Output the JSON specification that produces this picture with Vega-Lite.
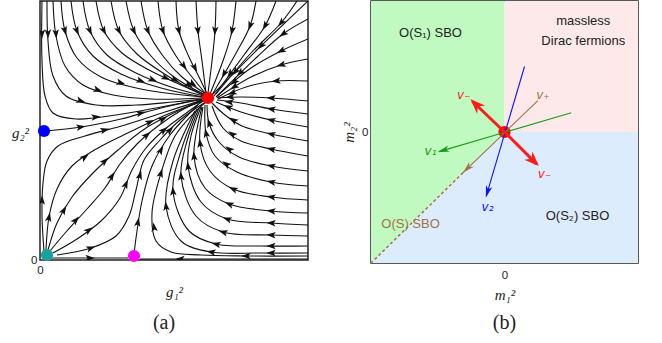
{
"$schema": "https://vega.github.io/schema/vega-lite/v6.json",
"padding": {"left": 10, "top": 0, "right": 0, "bottom": 0},
"background": "white",
"bounds": "flush",
"spacing": 63,
"config": {
 "view": {"stroke": "#222", "strokeWidth": 1.5},
 "axis": {"grid": false, "domain": false, "ticks": false, "labelFont": "Liberation Sans", "labelFontSize": 11.5, "labelColor": "#222", "labelFlush": false, "labelExpr": "'0'", "titleColor": "#222", "titleFont": "Liberation Serif", "titleFontStyle": "italic", "titleFontWeight": "normal", "titleFontSize": 15}
},
"datasets": {
 "streams": [
  {"id":"L1","g1":2,"g2":259},{"id":"L1","g1":2,"g2":199},{"id":"L1","g1":5,"g2":164},{"id":"L1","g1":13,"g2":147},{"id":"L1","g1":36,"g2":141},{"id":"L1","g1":76,"g2":145},{"id":"L1","g1":121,"g2":153},{"id":"L1","g1":163,"g2":161},
  {"id":"L2","g1":7,"g2":259},{"id":"L2","g1":8,"g2":219},{"id":"L2","g1":13,"g2":184},{"id":"L2","g1":26,"g2":164},{"id":"L2","g1":56,"g2":155},{"id":"L2","g1":96,"g2":155},{"id":"L2","g1":133,"g2":158},{"id":"L2","g1":164,"g2":161},
  {"id":"L3","g1":13,"g2":259},{"id":"L3","g1":16,"g2":224},{"id":"L3","g1":25,"g2":194},{"id":"L3","g1":43,"g2":175},{"id":"L3","g1":73,"g2":165},{"id":"L3","g1":111,"g2":161},{"id":"L3","g1":164,"g2":162},
  {"id":"L4","g1":21,"g2":259},{"id":"L4","g1":25,"g2":229},{"id":"L4","g1":37,"g2":202},{"id":"L4","g1":61,"g2":183},{"id":"L4","g1":101,"g2":171},{"id":"L4","g1":163,"g2":163},
  {"id":"L5","g1":31,"g2":259},{"id":"L5","g1":37,"g2":229},{"id":"L5","g1":53,"g2":204},{"id":"L5","g1":81,"g2":186},{"id":"L5","g1":121,"g2":172},{"id":"L5","g1":163,"g2":163},
  {"id":"L6","g1":43,"g2":259},{"id":"L6","g1":50,"g2":229},{"id":"L6","g1":67,"g2":205},{"id":"L6","g1":96,"g2":187},{"id":"L6","g1":131,"g2":173},{"id":"L6","g1":164,"g2":164},
  {"id":"L7","g1":56,"g2":259},{"id":"L7","g1":64,"g2":229},{"id":"L7","g1":82,"g2":207},{"id":"L7","g1":111,"g2":189},{"id":"L7","g1":141,"g2":175},{"id":"L7","g1":165,"g2":164},
  {"id":"L8","g1":71,"g2":259},{"id":"L8","g1":79,"g2":229},{"id":"L8","g1":97,"g2":206},{"id":"L8","g1":123,"g2":187},{"id":"L8","g1":147,"g2":173},{"id":"L8","g1":166,"g2":165},
  {"id":"L9","g1":86,"g2":259},{"id":"L9","g1":94,"g2":229},{"id":"L9","g1":111,"g2":204},{"id":"L9","g1":134,"g2":183},{"id":"L9","g1":165,"g2":165},
  {"id":"L10","g1":101,"g2":259},{"id":"L10","g1":108,"g2":229},{"id":"L10","g1":123,"g2":204},{"id":"L10","g1":142,"g2":183},{"id":"L10","g1":166,"g2":166},
  {"id":"L11","g1":118,"g2":259},{"id":"L11","g1":123,"g2":229},{"id":"L11","g1":136,"g2":204},{"id":"L11","g1":152,"g2":183},{"id":"L11","g1":166,"g2":166},
  {"id":"L12","g1":136,"g2":259},{"id":"L12","g1":139,"g2":229},{"id":"L12","g1":149,"g2":203},{"id":"L12","g1":160,"g2":181},{"id":"L12","g1":167,"g2":166},
  {"id":"L13","g1":156,"g2":259},{"id":"L13","g1":158,"g2":229},{"id":"L13","g1":162,"g2":199},{"id":"L13","g1":166,"g2":167},
  {"id":"L14","g1":176,"g2":259},{"id":"L14","g1":175,"g2":229},{"id":"L14","g1":172,"g2":199},{"id":"L14","g1":168,"g2":167},
  {"id":"L15","g1":196,"g2":259},{"id":"L15","g1":192,"g2":229},{"id":"L15","g1":184,"g2":202},{"id":"L15","g1":170,"g2":166},
  {"id":"L16","g1":216,"g2":259},{"id":"L16","g1":210,"g2":234},{"id":"L16","g1":195,"g2":205},{"id":"L16","g1":172,"g2":165},
  {"id":"L17","g1":236,"g2":259},{"id":"L17","g1":225,"g2":234},{"id":"L17","g1":204,"g2":205},{"id":"L17","g1":174,"g2":164},
  {"id":"L18","g1":257,"g2":259},{"id":"L18","g1":241,"g2":237},{"id":"L18","g1":211,"g2":207},{"id":"L18","g1":176,"g2":166},
  {"id":"L19","g1":268,"g2":259},{"id":"L19","g1":221,"g2":214},{"id":"L19","g1":171,"g2":164},
  {"id":"L20","g1":268,"g2":241},{"id":"L20","g1":243,"g2":226},{"id":"L20","g1":217,"g2":203},{"id":"L20","g1":177,"g2":164},
  {"id":"L21","g1":268,"g2":221},{"id":"L21","g1":241,"g2":209},{"id":"L21","g1":211,"g2":192},{"id":"L21","g1":176,"g2":163},
  {"id":"L22","g1":268,"g2":201},{"id":"L22","g1":241,"g2":195},{"id":"L22","g1":211,"g2":183},{"id":"L22","g1":177,"g2":162},
  {"id":"L23","g1":268,"g2":179},{"id":"L23","g1":236,"g2":179},{"id":"L23","g1":206,"g2":173},{"id":"L23","g1":178,"g2":161},
  {"id":"L24","g1":268,"g2":159},{"id":"L24","g1":231,"g2":162},{"id":"L24","g1":201,"g2":163},{"id":"L24","g1":178,"g2":162},
  {"id":"L25","g1":268,"g2":146},{"id":"L25","g1":231,"g2":151},{"id":"L25","g1":201,"g2":157},{"id":"L25","g1":177,"g2":160},
  {"id":"L26","g1":268,"g2":133},{"id":"L26","g1":231,"g2":140},{"id":"L26","g1":201,"g2":148},{"id":"L26","g1":176,"g2":158},
  {"id":"L27","g1":268,"g2":119},{"id":"L27","g1":231,"g2":126},{"id":"L27","g1":202,"g2":134},{"id":"L27","g1":185,"g2":145},{"id":"L27","g1":172,"g2":157},
  {"id":"L28","g1":268,"g2":104},{"id":"L28","g1":231,"g2":111},{"id":"L28","g1":201,"g2":119},{"id":"L28","g1":183,"g2":132},{"id":"L28","g1":172,"g2":154},
  {"id":"L29","g1":268,"g2":89},{"id":"L29","g1":231,"g2":94},{"id":"L29","g1":199,"g2":103},{"id":"L29","g1":179,"g2":118},{"id":"L29","g1":169,"g2":137},{"id":"L29","g1":167,"g2":155},
  {"id":"L30","g1":268,"g2":74},{"id":"L30","g1":231,"g2":78},{"id":"L30","g1":197,"g2":88},{"id":"L30","g1":175,"g2":104},{"id":"L30","g1":166,"g2":127},{"id":"L30","g1":165,"g2":155},
  {"id":"L31","g1":268,"g2":60},{"id":"L31","g1":231,"g2":63},{"id":"L31","g1":193,"g2":71},{"id":"L31","g1":170,"g2":89},{"id":"L31","g1":160,"g2":117},{"id":"L31","g1":163,"g2":153},
  {"id":"L32","g1":268,"g2":47},{"id":"L32","g1":231,"g2":49},{"id":"L32","g1":189,"g2":56},{"id":"L32","g1":165,"g2":72},{"id":"L32","g1":154,"g2":104},{"id":"L32","g1":162,"g2":153},
  {"id":"L33","g1":268,"g2":35},{"id":"L33","g1":231,"g2":37},{"id":"L33","g1":187,"g2":41},{"id":"L33","g1":161,"g2":58},{"id":"L33","g1":148,"g2":94},{"id":"L33","g1":151,"g2":124},{"id":"L33","g1":161,"g2":153},
  {"id":"L34","g1":268,"g2":24},{"id":"L34","g1":231,"g2":25},{"id":"L34","g1":183,"g2":28},{"id":"L34","g1":156,"g2":44},{"id":"L34","g1":141,"g2":84},{"id":"L34","g1":147,"g2":119},{"id":"L34","g1":159,"g2":152},
  {"id":"L35","g1":268,"g2":14},{"id":"L35","g1":221,"g2":14},{"id":"L35","g1":176,"g2":16},{"id":"L35","g1":149,"g2":29},{"id":"L35","g1":133,"g2":69},{"id":"L35","g1":141,"g2":109},{"id":"L35","g1":157,"g2":151},
  {"id":"L36","g1":268,"g2":7},{"id":"L36","g1":221,"g2":7},{"id":"L36","g1":171,"g2":8},{"id":"L36","g1":141,"g2":19},{"id":"L36","g1":126,"g2":54},{"id":"L36","g1":133,"g2":99},{"id":"L36","g1":155,"g2":149},
  {"id":"L37","g1":268,"g2":4},{"id":"L37","g1":206,"g2":4},{"id":"L37","g1":161,"g2":5},{"id":"L37","g1":131,"g2":8},{"id":"L37","g1":116,"g2":19},{"id":"L37","g1":112,"g2":47},{"id":"L37","g1":121,"g2":87},{"id":"L37","g1":135,"g2":124},{"id":"L37","g1":155,"g2":148},{"id":"L37","g1":166,"g2":158},
  {"id":"M1","g1":94,"g2":6},{"id":"M1","g1":97,"g2":29},{"id":"M1","g1":102,"g2":59},{"id":"M1","g1":112,"g2":94},{"id":"M1","g1":130,"g2":125},{"id":"M1","g1":158,"g2":155},
  {"id":"BL","g1":5,"g2":129},{"id":"BL","g1":41,"g2":133},{"id":"BL","g1":81,"g2":141},{"id":"BL","g1":121,"g2":152},{"id":"BL","g1":163,"g2":161},
  {"id":"C1","g1":4,"g2":9},{"id":"C1","g1":2,"g2":44},{"id":"C1","g1":3,"g2":77},{"id":"C1","g1":7,"g2":99},{"id":"C1","g1":18,"g2":114},{"id":"C1","g1":45,"g2":124},{"id":"C1","g1":85,"g2":135},{"id":"C1","g1":125,"g2":148},{"id":"C1","g1":163,"g2":160},
  {"id":"C2","g1":6,"g2":10},{"id":"C2","g1":9,"g2":43},{"id":"C2","g1":17,"g2":71},{"id":"C2","g1":32,"g2":94},{"id":"C2","g1":58,"g2":112},{"id":"C2","g1":92,"g2":129},{"id":"C2","g1":128,"g2":146},{"id":"C2","g1":164,"g2":159},
  {"id":"C3","g1":8,"g2":10},{"id":"C3","g1":17,"g2":37},{"id":"C3","g1":32,"g2":63},{"id":"C3","g1":53,"g2":87},{"id":"C3","g1":78,"g2":110},{"id":"C3","g1":106,"g2":132},{"id":"C3","g1":140,"g2":150},{"id":"C3","g1":163,"g2":161},
  {"id":"C4","g1":10,"g2":9},{"id":"C4","g1":26,"g2":28},{"id":"C4","g1":47,"g2":51},{"id":"C4","g1":65,"g2":72},{"id":"C4","g1":80,"g2":96},{"id":"C4","g1":97,"g2":116},{"id":"C4","g1":118,"g2":134},{"id":"C4","g1":142,"g2":150},{"id":"C4","g1":163,"g2":160},
  {"id":"C5","g1":13,"g2":7},{"id":"C5","g1":37,"g2":21},{"id":"C5","g1":61,"g2":39},{"id":"C5","g1":80,"g2":62},{"id":"C5","g1":92,"g2":90},{"id":"C5","g1":106,"g2":112},{"id":"C5","g1":124,"g2":130},{"id":"C5","g1":145,"g2":146},{"id":"C5","g1":163,"g2":159},
  {"id":"C6","g1":17,"g2":5},{"id":"C6","g1":51,"g2":12},{"id":"C6","g1":76,"g2":24},{"id":"C6","g1":89,"g2":44},{"id":"C6","g1":96,"g2":70},{"id":"C6","g1":104,"g2":100},{"id":"C6","g1":120,"g2":120},{"id":"C6","g1":140,"g2":140},{"id":"C6","g1":164,"g2":157},
  {"id":"B1","g1":268,"g2":1},{"id":"B1","g1":180,"g2":1},{"id":"B1","g1":100,"g2":1},
  {"id":"B2","g1":10,"g2":2},{"id":"B2","g1":50,"g2":2},{"id":"B2","g1":88,"g2":2}
 ],
 "arrows": [
  {"g1":2,"g2":226,"dir":90},{"g1":56,"g2":143,"dir":-6},
  {"g1":8,"g2":226,"dir":89},{"g1":41,"g2":159,"dir":17},
  {"g1":16,"g2":226,"dir":85},{"g1":58,"g2":170,"dir":18},
  {"g1":25,"g2":229,"dir":74},{"g1":81,"g2":177,"dir":17},
  {"g1":37,"g2":229,"dir":68},{"g1":101,"g2":179,"dir":19},
  {"g1":50,"g2":229,"dir":66},{"g1":113,"g2":180,"dir":22},
  {"g1":64,"g2":229,"dir":63},{"g1":126,"g2":182,"dir":25},
  {"g1":79,"g2":229,"dir":63},{"g1":135,"g2":180,"dir":30},
  {"g1":94,"g2":229,"dir":65},{"g1":149,"g2":175,"dir":30},
  {"g1":108,"g2":229,"dir":68},{"g1":153,"g2":176,"dir":35},
  {"g1":123,"g2":229,"dir":71},{"g1":144,"g2":194,"dir":53},
  {"g1":139,"g2":229,"dir":76},{"g1":155,"g2":192,"dir":63},
  {"g1":158,"g2":229,"dir":84},
  {"g1":175,"g2":229,"dir":94},
  {"g1":192,"g2":229,"dir":102},
  {"g1":210,"g2":234,"dir":110},{"g1":184,"g2":186,"dir":120},
  {"g1":225,"g2":234,"dir":120},{"g1":190,"g2":186,"dir":126},
  {"g1":241,"g2":237,"dir":130},{"g1":195,"g2":188,"dir":130},
  {"g1":221,"g2":214,"dir":136},
  {"g1":243,"g2":226,"dir":144},{"g1":200,"g2":187,"dir":136},
  {"g1":241,"g2":209,"dir":153},{"g1":194,"g2":178,"dir":140},
  {"g1":241,"g2":195,"dir":163},{"g1":194,"g2":173,"dir":148},
  {"g1":236,"g2":179,"dir":174},{"g1":192,"g2":167,"dir":157},
  {"g1":231,"g2":162,"dir":183},{"g1":190,"g2":163,"dir":178},
  {"g1":231,"g2":151,"dir":190},{"g1":189,"g2":158,"dir":187},
  {"g1":231,"g2":140,"dir":193},{"g1":188,"g2":153,"dir":202},
  {"g1":231,"g2":126,"dir":193},{"g1":193,"g2":140,"dir":213},
  {"g1":231,"g2":111,"dir":193},{"g1":192,"g2":126,"dir":216},
  {"g1":231,"g2":94,"dir":192},{"g1":189,"g2":111,"dir":217},{"g1":169,"g2":137,"dir":253},
  {"g1":231,"g2":78,"dir":191},{"g1":186,"g2":96,"dir":216},{"g1":166,"g2":127,"dir":258},
  {"g1":231,"g2":63,"dir":188},{"g1":193,"g2":71,"dir":205},{"g1":160,"g2":117,"dir":262},
  {"g1":231,"g2":49,"dir":186},{"g1":189,"g2":56,"dir":202},{"g1":154,"g2":104,"dir":265},
  {"g1":231,"g2":37,"dir":184},{"g1":187,"g2":41,"dir":199},{"g1":148,"g2":94,"dir":263},
  {"g1":231,"g2":25,"dir":183},{"g1":183,"g2":28,"dir":197},{"g1":141,"g2":84,"dir":265},
  {"g1":231,"g2":14,"dir":180},{"g1":176,"g2":16,"dir":194},{"g1":133,"g2":69,"dir":265},
  {"g1":231,"g2":7,"dir":180},{"g1":171,"g2":8,"dir":190},{"g1":126,"g2":54,"dir":263},
  {"g1":206,"g2":4,"dir":180},{"g1":114,"g2":33,"dir":262},{"g1":121,"g2":87,"dir":287},
  {"g1":98,"g2":38,"dir":280},{"g1":121,"g2":110,"dir":300},
  {"g1":41,"g2":133,"dir":-9},{"g1":101,"g2":147,"dir":-15},
  {"g1":2,"g2":60,"dir":272},{"g1":65,"g2":130,"dir":-15},
  {"g1":9,"g2":43,"dir":-79},{"g1":45,"g2":103,"dir":-35},{"g1":110,"g2":138,"dir":-25},
  {"g1":24,"g2":50,"dir":-60},{"g1":65,"g2":99,"dir":-43},{"g1":123,"g2":141,"dir":-28},
  {"g1":36,"g2":40,"dir":-48},{"g1":72,"g2":84,"dir":-58},{"g1":107,"g2":125,"dir":-41},
  {"g1":49,"g2":30,"dir":-37},{"g1":86,"g2":76,"dir":-67},{"g1":124,"g2":130,"dir":-41},
  {"g1":51,"g2":12,"dir":-19},{"g1":100,"g2":85,"dir":-75},{"g1":130,"g2":130,"dir":-45},
  {"g1":140,"g2":1,"dir":180},
  {"g1":50,"g2":2,"dir":0}
 ],
 "fixed": [
  {"fp":"gauss","g1":7,"g2":5},{"fp":"s2","g1":4,"g2":129},{"fp":"s1","g1":94,"g2":4},{"fp":"mixed","g1":168,"g2":162}
 ],
 "regions": [
  {"reg":"S1","m1":-1,"m2":-1,"hi":1},{"reg":"S1","m1":0,"m2":0,"hi":1},
  {"reg":"S2","m1":-1,"m2":-1,"hi":-1},{"reg":"S2","m1":0,"m2":-1,"hi":0},{"reg":"S2","m1":1,"m2":-1,"hi":0},
  {"reg":"D","m1":0,"m2":0,"hi":1},{"reg":"D","m1":1,"m2":0,"hi":1}
 ],
 "vecs": [
  {"v":"v1","m1":0.5,"m2":0.147,"n1":-0.49,"n2":-0.15},
  {"v":"v2","m1":0.15,"m2":0.5,"n1":-0.137,"n2":-0.49},
  {"v":"vp","m1":0.25,"m2":0.24,"n1":-0.31,"n2":-0.31},
  {"v":"vpd","m1":-0.31,"m2":-0.31,"n1":-1,"n2":-1},
  {"v":"vm","m1":0,"m2":0,"n1":-0.24,"n2":0.235},
  {"v":"vm","m1":0,"m2":0,"n1":0.242,"n2":-0.245}
 ],
 "heads": [
  {"v":"v1","m1":-0.5,"m2":-0.153,"dir":163.6},
  {"v":"v2","m1":-0.14,"m2":-0.5,"dir":106.5},
  {"v":"vp","m1":-0.31,"m2":-0.31,"dir":136},
  {"v":"vm","m1":-0.255,"m2":0.25,"dir":224},
  {"v":"vm","m1":0.257,"m2":-0.26,"dir":45}
 ],
 "origin": [{"m1":0,"m2":0}],
 "rlabels": [
  {"t":"O(S₁) SBO","m1":-0.554,"m2":0.756,"k":"plain"},
  {"t":"massless","m1":0.59,"m2":0.847,"k":"plain"},
  {"t":"Dirac fermions","m1":0.59,"m2":0.695,"k":"plain"},
  {"t":"O(S₂) SBO","m1":0.547,"m2":-0.64,"k":"plain"},
  {"t":"O(S) SBO","m1":-0.704,"m2":-0.70,"k":"brown"}
 ],
 "vlabels": [
  {"t":"v₋","m1":-0.305,"m2":0.282,"v":"vm"},
  {"t":"v₊","m1":0.288,"m2":0.28,"v":"vp"},
  {"t":"v₁","m1":-0.554,"m2":-0.145,"v":"v1"},
  {"t":"v₂","m1":-0.127,"m2":-0.573,"v":"v2"},
  {"t":"v₋","m1":0.30,"m2":-0.317,"v":"vm"}
 ]
},
"hconcat": [
 {
  "width": 268, "height": 259,
  "title": {"text": "(a)", "orient": "bottom", "frame": "group", "anchor": "middle", "offset": 14, "dx": -10, "font": "Liberation Serif", "fontSize": 20, "fontWeight": "normal", "color": "#222"},
  "layer": [
   {"data": {"name": "streams"},
    "mark": {"type": "line", "interpolate": "catmull-rom", "color": "#111", "strokeWidth": 1.1, "clip": true},
    "encoding": {
     "x": {"field": "g1", "type": "quantitative", "scale": {"domain": [0, 268], "nice": false, "zero": false},
           "axis": {"values": [0], "title": "g₁²", "labelPadding": 4, "titleY": 31, "titleBaseline": "middle"}},
     "y": {"field": "g2", "type": "quantitative", "scale": {"domain": [0, 259], "nice": false, "zero": false},
           "axis": {"values": [0], "title": "g₂²", "labelPadding": 3, "titleAngle": 0, "titleX": -20, "titleY": 131, "titleAlign": "center", "titleBaseline": "middle"}},
     "detail": {"field": "id"},
     "order": {"value": null}
    }},
   {"data": {"name": "arrows"},
    "mark": {"type": "point", "shape": "M1,0L-1,-0.7L-0.55,0L-1,0.7Z", "filled": true, "color": "#111", "size": 85, "opacity": 1, "clip": true},
    "encoding": {
     "x": {"field": "g1", "type": "quantitative"},
     "y": {"field": "g2", "type": "quantitative"},
     "angle": {"field": "dir", "type": "quantitative", "scale": null}
    }},
   {"data": {"name": "fixed"},
    "mark": {"type": "circle", "size": 150, "opacity": 1, "clip": false},
    "encoding": {
     "x": {"field": "g1", "type": "quantitative"},
     "y": {"field": "g2", "type": "quantitative"},
     "color": {"field": "fp", "type": "nominal", "scale": {"domain": ["gauss", "s2", "s1", "mixed"], "range": ["#17a2a2", "#0000ff", "#ff00ff", "#ff0000"]}, "legend": null}
    }}
  ]
 },
 {
  "width": 267, "height": 262,
  "title": {"text": "(b)", "orient": "bottom", "frame": "group", "anchor": "middle", "offset": 11, "dx": 0, "font": "Liberation Serif", "fontSize": 20, "fontWeight": "normal", "color": "#222"},
  "resolve": {"scale": {"color": "independent"}},
  "layer": [
   {"data": {"name": "regions"},
    "mark": {"type": "area", "opacity": 1, "clip": true},
    "encoding": {
     "x": {"field": "m1", "type": "quantitative", "scale": {"domain": [-1, 1], "nice": false, "zero": false},
           "axis": {"values": [0], "title": "m₁²", "labelPadding": 6, "titleY": 31, "titleBaseline": "middle"}},
     "y": {"field": "m2", "type": "quantitative", "stack": null, "scale": {"domain": [-1, 1], "nice": false, "zero": false},
           "axis": {"values": [0], "title": "m₂²", "labelPadding": 3, "titleX": -23, "titleY": 131, "titleAlign": "center", "titleBaseline": "middle"}},
     "y2": {"field": "hi"},
     "color": {"field": "reg", "type": "nominal", "scale": {"domain": ["S1", "D", "S2"], "range": ["#c1fac1", "#fde9e9", "#dcecfd"]}, "legend": null}
    }},
   {"data": {"name": "origin"},
    "mark": {"type": "circle", "size": 150, "opacity": 1, "color": "#ff0000"},
    "encoding": {
     "x": {"field": "m1", "type": "quantitative"},
     "y": {"field": "m2", "type": "quantitative"}
    }},
   {"data": {"name": "vecs"},
    "transform": [{"filter": {"field": "v", "oneOf": ["v1", "v2", "vp"]}}],
    "mark": {"type": "rule", "strokeWidth": 1.1},
    "encoding": {
     "x": {"field": "m1", "type": "quantitative"},
     "y": {"field": "m2", "type": "quantitative"},
     "x2": {"field": "n1"},
     "y2": {"field": "n2"},
     "color": {"field": "v", "type": "nominal", "scale": {"domain": ["v1", "v2", "vp", "vm"], "range": ["#1a9a1a", "#1010ff", "#a37245", "#ff1a1a"]}, "legend": null}
    }},
   {"data": {"name": "vecs"},
    "transform": [{"filter": {"field": "v", "equal": "vpd"}}],
    "mark": {"type": "rule", "strokeWidth": 1.5, "color": "#a37245", "strokeDash": [3, 2.5]},
    "encoding": {
     "x": {"field": "m1", "type": "quantitative"},
     "y": {"field": "m2", "type": "quantitative"},
     "x2": {"field": "n1"},
     "y2": {"field": "n2"}
    }},
   {"data": {"name": "vecs"},
    "transform": [{"filter": {"field": "v", "equal": "vm"}}],
    "mark": {"type": "rule", "strokeWidth": 3, "color": "#ff1a1a"},
    "encoding": {
     "x": {"field": "m1", "type": "quantitative"},
     "y": {"field": "m2", "type": "quantitative"},
     "x2": {"field": "n1"},
     "y2": {"field": "n2"}
    }},
   {"data": {"name": "heads"},
    "transform": [{"filter": {"field": "v", "oneOf": ["v1", "v2", "vp"]}}],
    "mark": {"type": "point", "shape": "M0,0L-1.8,-0.5L-1.3,0L-1.8,0.5Z", "filled": true, "size": 170, "opacity": 1},
    "encoding": {
     "x": {"field": "m1", "type": "quantitative"},
     "y": {"field": "m2", "type": "quantitative"},
     "angle": {"field": "dir", "type": "quantitative", "scale": null},
     "color": {"field": "v", "type": "nominal", "scale": {"domain": ["v1", "v2", "vp", "vm"], "range": ["#1a9a1a", "#1010ff", "#a37245", "#ff1a1a"]}, "legend": null}
    }},
   {"data": {"name": "heads"},
    "transform": [{"filter": {"field": "v", "equal": "vm"}}],
    "mark": {"type": "point", "shape": "M0,0L-1.8,-0.7L-1.25,0L-1.8,0.7Z", "filled": true, "size": 270, "opacity": 1, "color": "#ff1a1a"},
    "encoding": {
     "x": {"field": "m1", "type": "quantitative"},
     "y": {"field": "m2", "type": "quantitative"},
     "angle": {"field": "dir", "type": "quantitative", "scale": null}
    }},
   {"data": {"name": "rlabels"},
    "mark": {"type": "text", "font": "Liberation Sans", "fontSize": 13, "align": "center", "baseline": "middle"},
    "encoding": {
     "x": {"field": "m1", "type": "quantitative"},
     "y": {"field": "m2", "type": "quantitative"},
     "text": {"field": "t"},
     "color": {"field": "k", "type": "nominal", "scale": {"domain": ["plain", "brown"], "range": ["#222222", "#a37245"]}, "legend": null}
    }},
   {"data": {"name": "vlabels"},
    "mark": {"type": "text", "font": "DejaVu Sans", "fontStyle": "italic", "fontSize": 12, "align": "center", "baseline": "middle"},
    "encoding": {
     "x": {"field": "m1", "type": "quantitative"},
     "y": {"field": "m2", "type": "quantitative"},
     "text": {"field": "t"},
     "color": {"field": "v", "type": "nominal", "scale": {"domain": ["v1", "v2", "vp", "vm"], "range": ["#1a9a1a", "#1010ff", "#a37245", "#ff1a1a"]}, "legend": null}
    }}
  ]
 }
]
}
